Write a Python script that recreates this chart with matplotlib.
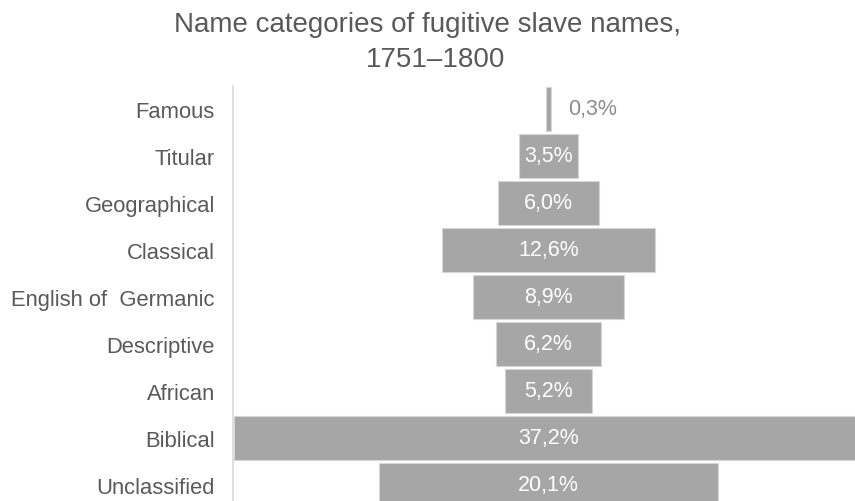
import matplotlib
matplotlib.use("Agg")
import matplotlib.pyplot as plt

categories = ["Famous", "Titular", "Geographical", "Classical", "English of  Germanic",
              "Descriptive", "African", "Biblical", "Unclassified"]
values = [0.3, 3.5, 6.0, 12.6, 8.9, 6.2, 5.2, 37.2, 20.1]
labels = ["0,3%", "3,5%", "6,0%", "12,6%", "8,9%", "6,2%", "5,2%", "37,2%", "20,1%"]
title_lines = ["Name categories of fugitive slave names,", "1751\u20131800"]

plt.rcParams['font.family'] = ['Liberation Sans', 'DejaVu Sans']

W, H = 855, 502
fig = plt.figure(figsize=(W / 100, H / 100), dpi=100)
ax_left, ax_right = 233, 855
ax_top = 86.5
pitch = 47.0
ax_h = pitch * len(categories)
ax = fig.add_axes([ax_left / W, (H - ax_top - ax_h) / H, (ax_right - ax_left) / W, ax_h / H])

pxper = 16.9
center_px = 548.5
xmin = -(center_px - ax_left) / pxper
xmax = (ax_right - center_px) / pxper

y = list(range(len(categories)))
lefts = [-v / 2 for v in values]
ax.barh(y, values, left=lefts, height=0.935, color='#a6a6a6', edgecolor='#d6d6d6', linewidth=0.8)

for i, (v, lab) in enumerate(zip(values, labels)):
    if v < 2:
        ax.text(v / 2 + 1.0, i, lab, ha='left', va='center', color='#8c8c8c', fontsize=15.5)
    else:
        ax.text(0, i, lab, ha='center', va='center', color='white', fontsize=15.5)

ax.set_xlim(xmin, xmax)
ax.set_ylim(len(categories) - 0.5, -0.5)
ax.set_yticks(y)
ax.set_yticklabels(categories, fontsize=15.8, color='#595959')
ax.tick_params(axis='y', length=0, pad=13)
ax.set_xticks([])
for s in ['top', 'right', 'bottom']:
    ax.spines[s].set_visible(False)
ax.spines['left'].set_color('#d9d9d9')
ax.spines['left'].set_linewidth(1.2)

fig.text(427 / W, 1 - 32 / H, title_lines[0], ha='center', va='baseline',
         fontsize=20, color='#595959')
fig.text(436 / W, 1 - 67 / H, title_lines[1], ha='center', va='baseline',
         fontsize=20, color='#595959')

fig.savefig("out.png", dpi=100)
